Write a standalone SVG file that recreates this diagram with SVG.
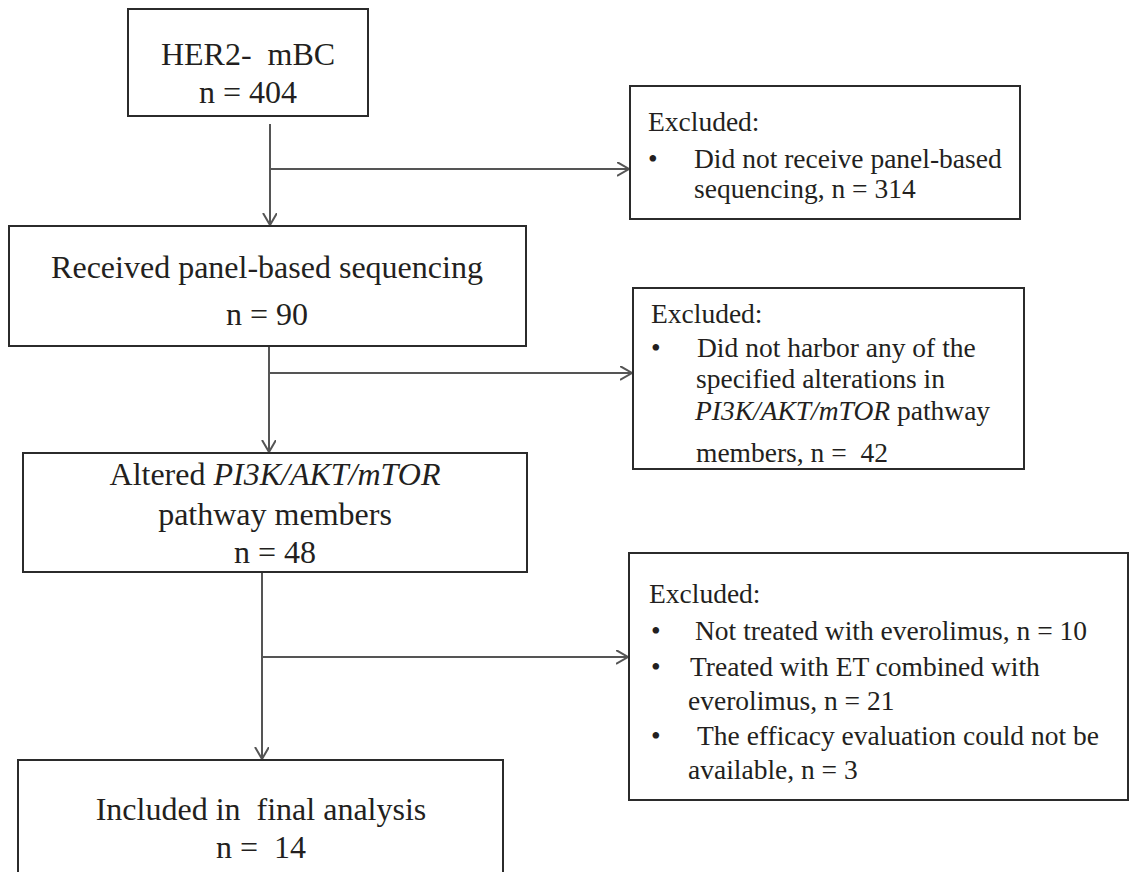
<svg xmlns="http://www.w3.org/2000/svg" width="1131" height="872" viewBox="0 0 1131 872">
  <style>
    .box { fill: #ffffff; stroke: #2b2b2b; stroke-width: 2; }
    .main { font-family: "Liberation Serif", "Times New Roman", serif; font-size: 32px; fill: #231f20; text-anchor: middle; }
    .note { font-family: "Liberation Serif", "Times New Roman", serif; font-size: 27.5px; fill: #231f20; }
    .it { font-style: italic; }
    .link { fill: none; stroke: #555555; stroke-width: 2; }
  </style>
  <defs>
    <marker id="chevron" markerUnits="userSpaceOnUse" markerWidth="16" markerHeight="16" refX="12" refY="7" orient="auto">
      <path d="M0,0 L12,7 L0,14" fill="none" stroke="#555555" stroke-width="2"/>
    </marker>
  </defs>
  <rect width="1131" height="872" fill="#ffffff"/>

  <!-- connectors: trunk lines with side branches to the exclusion boxes -->
  <g id="connectors">
    <line class="link" x1="270" y1="124" x2="270" y2="225" marker-end="url(#chevron)"/>
    <line class="link" x1="270" y1="169" x2="629" y2="169" marker-end="url(#chevron)"/>
    <line class="link" x1="269" y1="346" x2="269" y2="452" marker-end="url(#chevron)"/>
    <line class="link" x1="269" y1="373" x2="632" y2="373" marker-end="url(#chevron)"/>
    <line class="link" x1="262" y1="572" x2="262" y2="759" marker-end="url(#chevron)"/>
    <line class="link" x1="262" y1="657" x2="628" y2="657" marker-end="url(#chevron)"/>
  </g>

  <!-- main flow -->
  <g id="node-her2">
    <rect class="box" x="128" y="9" width="240" height="107"/>
    <text class="main" x="248" y="65" xml:space="preserve">HER2-  mBC</text>
    <text class="main" x="248" y="103">n = 404</text>
  </g>
  <g id="node-sequenced">
    <rect class="box" x="9" y="226" width="517" height="120"/>
    <text class="main" x="267" y="278">Received panel-based sequencing</text>
    <text class="main" x="267" y="325">n = 90</text>
  </g>
  <g id="node-altered">
    <rect class="box" x="23" y="453" width="504" height="119"/>
    <text class="main" x="275" y="485">Altered <tspan class="it">PI3K/AKT/mTOR</tspan></text>
    <text class="main" x="275" y="525">pathway members</text>
    <text class="main" x="275" y="563">n = 48</text>
  </g>
  <g id="node-included">
    <rect class="box" x="18" y="760" width="485" height="120"/>
    <text class="main" x="261" y="820" xml:space="preserve">Included in  final analysis</text>
    <text class="main" x="261" y="858" xml:space="preserve">n =  14</text>
  </g>

  <!-- exclusion boxes -->
  <g id="node-excluded-1">
    <rect class="box" x="630" y="86" width="390" height="133"/>
    <text class="note" x="648" y="131">Excluded:</text>
    <text class="note" x="648" y="168">•</text>
    <text class="note" x="694" y="168">Did not receive panel-based</text>
    <text class="note" x="694" y="198">sequencing, n = 314</text>
  </g>
  <g id="node-excluded-2">
    <rect class="box" x="633" y="288" width="391" height="181"/>
    <text class="note" x="651" y="323">Excluded:</text>
    <text class="note" x="651" y="357">•</text>
    <text class="note" x="697" y="357">Did not harbor any of the</text>
    <text class="note" x="696" y="388">specified alterations in</text>
    <text class="note" x="695" y="420"><tspan class="it">PI3K/AKT/mTOR</tspan> pathway</text>
    <text class="note" x="696" y="462" xml:space="preserve">members, n =  42</text>
  </g>
  <g id="node-excluded-3">
    <rect class="box" x="629" y="553" width="499" height="247"/>
    <text class="note" x="649" y="603">Excluded:</text>
    <text class="note" x="651" y="640">•</text>
    <text class="note" x="695" y="640">Not treated with everolimus, n = 10</text>
    <text class="note" x="651" y="676">•</text>
    <text class="note" x="690" y="676">Treated with ET combined with</text>
    <text class="note" x="688" y="710">everolimus, n = 21</text>
    <text class="note" x="651" y="745">•</text>
    <text class="note" x="697" y="745">The efficacy evaluation could not be</text>
    <text class="note" x="688" y="779">available, n = 3</text>
  </g>
</svg>
